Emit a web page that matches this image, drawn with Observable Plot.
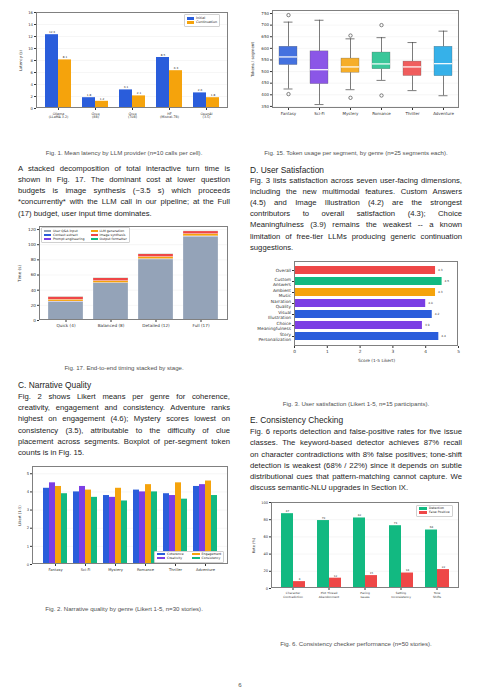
<!DOCTYPE html>
<html><head><meta charset="utf-8">
<script src="https://cdn.jsdelivr.net/npm/d3@7"></script>
<script src="https://cdn.jsdelivr.net/npm/@observablehq/plot@0.6"></script>
<style>
html,body{margin:0;padding:0;background:#fff;}
#page{position:relative;width:480px;height:694px;overflow:hidden;font-family:"Liberation Sans",Arial,sans-serif;color:#1d1d1d;}
.line{position:absolute;white-space:nowrap;font-size:7.7px;line-height:10px;}
.head{position:absolute;white-space:nowrap;font-size:8.4px;line-height:10px;}
.cap{position:absolute;white-space:nowrap;font-size:6.1px;line-height:8px;color:#505050;transform:translate(-50%,-50%);}
.frame{position:absolute;box-sizing:border-box;border:0.6px solid #808080;pointer-events:none;}
.legend{position:absolute;box-sizing:border-box;border:0.5px solid #d0d0d0;border-radius:1px;background:#fff;font-family:"DejaVu Sans",sans-serif;color:#222;display:grid;grid-auto-flow:column;align-items:center;}
.legend span.sw{display:inline-block;vertical-align:middle;margin-right:2px;}
</style></head>
<body><div id="page"></div>
<script>
// ---------------- DATA ----------------
// Fig. 1 – mean latency by provider
const providers = ["Ollama\n(LLaMA 3.2)", "Groq\n(8B)", "Groq\n(70B)", "HF\n(Mistral-7B)", "OpenAI\n(3.5)"];
const latencySeries = ["Initial", "Continuation"];
const latencyInitial = [12.3, 1.8, 3.1, 8.5, 2.6];
const latencyContinuation = [8.1, 1.2, 2.1, 6.3, 1.8];
const latencyTicks = [0, 2, 4, 6, 8, 10, 12, 14, 16];

// Fig. 15 – token usage boxplot summary
const genres = ["Fantasy", "Sci-Fi", "Mystery", "Romance", "Thriller", "Adventure"];
const tokLow = [425, 358, 422, 462, 418, 396];
const tokQ1 = [528, 446, 495, 510, 481, 480];
const tokMedian = [563, 508, 520, 533, 520, 534];
const tokQ3 = [607, 587, 556, 582, 543, 607];
const tokHigh = [713, 721, 641, 646, 625, 674];
const tokOutlierGenre = ["Fantasy", "Fantasy", "Mystery", "Mystery", "Romance", "Romance"];
const tokOutlierValue = [743, 403, 655, 387, 700, 397];
const tokTicks = [350, 400, 450, 500, 550, 600, 650, 700, 750];

// Fig. 17 – timing stacked by stage
const budgets = ["Quick (4)", "Balanced (8)", "Detailed (12)", "Full (17)"];
const stages = ["User Q&A input", "Context extract", "Prompt engineering", "LLM generation", "Image synthesis", "Output formatter"];
const tUser = [24.5, 49, 80.5, 110.5];
const tContext = [0.3, 0.3, 0.3, 0.3];
const tPrompt = [0.2, 0.2, 0.2, 0.2];
const tLLM = [2.4, 2.6, 2.8, 3.0];
const tImage = [3.5, 3.5, 3.5, 3.5];
const tOutput = [0.2, 0.2, 0.2, 0.2];
const timeTicks = [0, 20, 40, 60, 80, 100, 120];

// Fig. 3 – user satisfaction
const satDims = ["Overall", "Custom\nAnswers", "Ambient\nMusic", "Narration\nQuality", "Visual\nIllustration", "Choice\nMeaningfulness", "Story\nPersonalization"];
const satScores = [4.3, 4.5, 4.3, 4.0, 4.2, 3.9, 4.4];
const satTicks = [0, 1, 2, 3, 4, 5];

// Fig. 2 – narrative quality
const qualityMetrics = ["Coherence", "Creativity", "Engagement", "Consistency"];
const coherence = [4.2, 4.0, 3.8, 4.1, 3.9, 4.3];
const creativity = [4.5, 4.3, 3.7, 4.0, 3.8, 4.4];
const engagement = [4.3, 4.1, 4.2, 4.4, 4.5, 4.6];
const consistency = [3.9, 3.7, 3.5, 4.0, 3.6, 3.8];
const likertTicks = [0, 1, 2, 3, 4, 5];

// Fig. 6 – consistency checker
const issueClasses = ["Character\nContradiction", "Plot Thread\nAbandonment", "Pacing\nIssues", "Setting\nInconsistency", "Tone\nShifts"];
const checkSeries = ["Detection", "False Positive"];
const detectionRate = [87, 79, 82, 73, 68];
const falsePositiveRate = [8, 12, 15, 18, 22];
const rateTicks = [0, 20, 40, 60, 80, 100];

// Text
const para1 = ["A stacked decomposition of total interactive turn time is",
  "shown in Fig. 17. The dominant cost at lower question",
  "budgets is image synthesis (~3.5 s) which proceeds",
  "*concurrently* with the LLM call in our pipeline; at the Full",
  "(17) budget, user input time dominates."];
const paraD = ["Fig. 3 lists satisfaction across seven user-facing dimensions,",
  "including the new multimodal features. Custom Answers",
  "(4.5) and Image Illustration (4.2) are the strongest",
  "contributors to overall satisfaction (4.3); Choice",
  "Meaningfulness (3.9) remains the weakest -- a known",
  "limitation of free-tier LLMs producing generic continuation",
  "suggestions."];
const paraC = ["Fig. 2 shows Likert means per genre for coherence,",
  "creativity, engagement and consistency. Adventure ranks",
  "highest on engagement (4.6); Mystery scores lowest on",
  "consistency (3.5), attributable to the difficulty of clue",
  "placement across segments. Boxplot of per-segment token",
  "counts is in Fig. 15."];
const paraE = ["Fig. 6 reports detection and false-positive rates for five issue",
  "classes. The keyword-based detector achieves 87% recall",
  "on character contradictions with 8% false positives; tone-shift",
  "detection is weakest (68% / 22%) since it depends on subtle",
  "distributional cues that pattern-matching cannot capture. We",
  "discuss semantic-NLU upgrades in Section IX."];

// ---------------- COLOURS ----------------
const BLUE = "#2a5ddb", ORANGE = "#f5a30c", PURPLE = "#7b3fe4", GREEN = "#12b981", RED = "#ee4747", GRAY = "#94a3b8";

// ---------------- HELPERS ----------------
const page = document.getElementById("page");
function place(svg, left, top) {
  svg.style.position = "absolute"; svg.style.left = left + "px"; svg.style.top = top + "px";
  page.appendChild(svg);
}
function frame(left, top, m) {
  const f = document.createElement("div");
  f.className = "frame";
  Object.assign(f.style, {left: (left + m.left) + "px", top: (top + m.top) + "px",
    width: (m.width - m.left - m.right) + "px", height: (m.height - m.top - m.bottom) + "px"});
  page.appendChild(f);
}
function mount(svg, left, top, m) { place(svg, left, top); frame(left, top, m); }
const dims = (m) => ({width: m.width, height: m.height, marginTop: m.top, marginRight: m.right, marginBottom: m.bottom, marginLeft: m.left});
// y axis + grid drawn once across the whole frame (beneath faceted bars)
function yUnderlay(left, top, m, fs, yDomain, ticks, label, labelOffset) {
  const svg = Plot.plot({
    ...dims(m), style: baseStyle(fs),
    y: {domain: yDomain},
    marks: [
      Plot.ruleY(ticks.slice(1), {stroke: "#ececec", strokeWidth: 0.5}),
      Plot.axisY({ticks, tickFormat: fmtInt, tickSize: 2, tickPadding: 1.5, label, labelAnchor: "center", labelArrow: "none", labelOffset})
    ]
  });
  place(svg, left, top);
}
function lines(arr, x, width, y0, step, justifyLast = false) {
  arr.forEach((t, i) => {
    const d = document.createElement("div");
    d.className = "line"; d.textContent = t;
    d.style.left = x + "px"; d.style.top = (y0 + i * step - 5.5) + "px";
    page.appendChild(d);
    if (i < arr.length - 1 || justifyLast) {
      const w = d.getBoundingClientRect().width;
      const n = (t.match(/ /g) || []).length;
      if (n) d.style.wordSpacing = ((width - w) / n) + "px";
    }
  });
}
function head(t, x, y) {
  const d = document.createElement("div"); d.className = "head"; d.textContent = t;
  d.style.left = x + "px"; d.style.top = (y - 5.5) + "px"; page.appendChild(d);
}
function caption(t, cx, cy) {
  const d = document.createElement("div"); d.className = "cap"; d.textContent = t;
  d.style.left = cx + "px"; d.style.top = cy + "px"; page.appendChild(d);
}
function legend(items, colors, left, top, rows, fontSize, sw, colGap) {
  const d = document.createElement("div"); d.className = "legend";
  Object.assign(d.style, {left: left + "px", top: top + "px", fontSize: fontSize + "px",
    gridTemplateRows: `repeat(${rows}, auto)`, columnGap: colGap + "px", padding: "1.2px 2px", lineHeight: (fontSize * 1.25) + "px"});
  items.forEach((t, i) => {
    const it = document.createElement("div"); it.style.whiteSpace = "nowrap";
    const s = document.createElement("span"); s.className = "sw";
    Object.assign(s.style, {width: sw[0] + "px", height: sw[1] + "px", background: colors[i]});
    it.appendChild(s); it.appendChild(document.createTextNode(t)); d.appendChild(it);
  });
  page.appendChild(d);
}
const baseStyle = (fs) => ({fontFamily: "DejaVu Sans, sans-serif", fontSize: fs + "px", color: "#333", background: "none", overflow: "visible"});
const fmtInt = d3.format("d");

// ---------------- FIG 1 ----------------
{
  const m = {width: 240, height: 130, top: 12, right: 12, bottom: 22, left: 36};
  const rows = providers.flatMap((p, i) => [
    {provider: p, series: latencySeries[0], value: latencyInitial[i]},
    {provider: p, series: latencySeries[1], value: latencyContinuation[i]}]);
  yUnderlay(0, 0, m, 3.8, [0, 16], latencyTicks, "Latency (s)", 17);
  const svg = Plot.plot({
    ...dims(m), style: baseStyle(3.8),
    fx: {domain: providers, paddingInner: 0.3, paddingOuter: 0.24, label: null},
    x: {domain: latencySeries, padding: 0, axis: null},
    y: {domain: [0, 16], axis: null},
    color: {domain: latencySeries, range: [BLUE, ORANGE]},
    marks: [
      Plot.barY(rows, {fx: "provider", x: "series", y: "value", fill: "series"}),
      Plot.text(rows, {fx: "provider", x: "series", y: "value", text: d => d.value.toFixed(1), dy: -2.5, fontSize: 2.8, fill: "#333"}),
      Plot.axisFx({anchor: "bottom", tickSize: 2, tickPadding: 1.5, label: null, fontSize: 3.3, lineHeight: 1.15})
    ]
  });
  mount(svg, 0, 0, m);
  legend(latencySeries, [BLUE, ORANGE], 184, 14, 2, 3.3, [7, 2.6], 0);
}

// ---------------- FIG 15 ----------------
{
  const m = {width: 240, height: 130, top: 10, right: 21, bottom: 22, left: 32};
  const boxes = genres.map((g, i) => ({genre: g, lo: tokLow[i], q1: tokQ1[i], med: tokMedian[i], q3: tokQ3[i], hi: tokHigh[i]}));
  const outliers = tokOutlierGenre.map((g, i) => ({genre: g, value: tokOutlierValue[i]}));
  const pal = [BLUE, PURPLE, ORANGE, "#1fbf8c", RED, "#1aa6e6"];
  const svg = Plot.plot({
    ...dims(m), style: baseStyle(4),
    x: {domain: genres, paddingInner: 0.42, paddingOuter: 0.22},
    y: {domain: [341, 763]},
    color: {domain: genres, range: pal},
    marks: [
      Plot.ruleY(tokTicks, {stroke: "#ececec", strokeWidth: 0.5}),
      Plot.ruleX(boxes, {x: "genre", y1: "lo", y2: "q1", stroke: "#444", strokeWidth: 0.7}),
      Plot.ruleX(boxes, {x: "genre", y1: "q3", y2: "hi", stroke: "#444", strokeWidth: 0.7}),
      Plot.tickY(boxes, {x: "genre", y: "lo", stroke: "#444", strokeWidth: 0.7, inset: 4.5}),
      Plot.tickY(boxes, {x: "genre", y: "hi", stroke: "#444", strokeWidth: 0.7, inset: 4.5}),
      Plot.barY(boxes, {x: "genre", y1: "q1", y2: "q3", fill: "genre", fillOpacity: 0.88, stroke: "#555", strokeWidth: 0.4, strokeOpacity: 0.7}),
      Plot.tickY(boxes, {x: "genre", y: "med", stroke: "#fff", strokeWidth: 1.2}),
      Plot.dot(outliers, {x: "genre", y: "value", r: 1.7, stroke: "#333", strokeWidth: 0.6, fill: "none"}),
      Plot.axisY({ticks: tokTicks, tickFormat: fmtInt, tickSize: 2, tickPadding: 1.5, label: "Tokens / segment", labelAnchor: "center", labelArrow: "none", labelOffset: 21}),
      Plot.axisX({tickSize: 2, tickPadding: 1.5, label: null})
    ]
  });
  mount(svg, 240, 0, m);
}

// ---------------- FIG 17 ----------------
{
  const m = {width: 240, height: 112, top: 4, right: 12, bottom: 14, left: 39};
  const series = [tUser, tContext, tPrompt, tLLM, tImage, tOutput];
  const rows = budgets.flatMap((b, i) => stages.map((s, j) => ({budget: b, stage: s, value: series[j][i]})));
  const pal = [GRAY, BLUE, PURPLE, ORANGE, RED, GREEN];
  const svg = Plot.plot({
    ...dims(m), style: baseStyle(4.2),
    x: {domain: budgets, paddingInner: 0.22, paddingOuter: 0.2},
    y: {domain: [0, 124]},
    color: {domain: stages, range: pal},
    marks: [
      Plot.ruleY(timeTicks.slice(1), {stroke: "#ececec", strokeWidth: 0.5}),
      Plot.barY(rows, {x: "budget", y: "value", fill: "stage", stroke: "#fff", strokeWidth: 0.25}),
      Plot.axisY({ticks: timeTicks, tickFormat: fmtInt, tickSize: 2, tickPadding: 1.5, label: "Time (s)", labelAnchor: "center", labelArrow: "none", labelOffset: 21}),
      Plot.axisX({tickSize: 2, tickPadding: 1.5, label: null})
    ]
  });
  mount(svg, 0, 222, m);
  legend(stages, pal, 41, 227, 3, 3.2, [7, 2.2], 6);
}

// ---------------- FIG 3 ----------------
{
  const m = {width: 240, height: 112, top: 6, right: 22, bottom: 21, left: 54};
  const rows = satDims.map((d, i) => ({dim: d, score: satScores[i]}));
  const pal = [RED, GREEN, ORANGE, PURPLE, BLUE, PURPLE, BLUE];
  const svg = Plot.plot({
    ...dims(m), style: baseStyle(4.3),
    x: {domain: [0, 5]},
    y: {domain: satDims, paddingInner: 0.26, paddingOuter: 0.345},
    color: {domain: satDims, range: pal},
    marks: [
      Plot.barX(rows, {y: "dim", x: "score", fill: "dim"}),
      Plot.text(rows, {y: "dim", x: "score", text: d => d.score.toFixed(1), textAnchor: "start", dx: 2.5, fontSize: 2.9, fill: "#333"}),
      Plot.axisX({ticks: satTicks, tickFormat: fmtInt, tickSize: 2, tickPadding: 1.5, label: "Score (1-5 Likert)", labelAnchor: "center", labelArrow: "none", labelOffset: 15}),
      Plot.axisY({tickSize: 2, tickPadding: 1.5, label: null, lineHeight: 1.2})
    ]
  });
  mount(svg, 240, 255, m);
}

// ---------------- FIG 2 ----------------
{
  const m = {width: 240, height: 120, top: 6, right: 12, bottom: 16, left: 32};
  const vals = [coherence, creativity, engagement, consistency];
  const rows = genres.flatMap((g, i) => qualityMetrics.map((q, j) => ({genre: g, metric: q, value: vals[j][i]})));
  const pal = [BLUE, PURPLE, ORANGE, GREEN];
  yUnderlay(0, 460, m, 3.7, [0, 5.4], likertTicks, "Likert (1-5)", 14);
  const svg = Plot.plot({
    ...dims(m), style: baseStyle(3.7),
    fx: {domain: genres, paddingInner: 0.2, paddingOuter: 0.33, label: null},
    x: {domain: qualityMetrics, padding: 0, axis: null},
    y: {domain: [0, 5.4], axis: null},
    color: {domain: qualityMetrics, range: pal},
    marks: [
      Plot.barY(rows, {fx: "genre", x: "metric", y: "value", fill: "metric"}),
      Plot.axisFx({anchor: "bottom", tickSize: 2, tickPadding: 1.5, label: null})
    ]
  });
  mount(svg, 0, 460, m);
  legend(qualityMetrics, pal, 154, 551, 2, 3.1, [8, 2.2], 8);
}

// ---------------- FIG 6 ----------------
{
  const m = {width: 240, height: 110, top: 7, right: 21, bottom: 17, left: 31};
  const rows = issueClasses.flatMap((c, i) => [
    {issue: c, series: checkSeries[0], value: detectionRate[i]},
    {issue: c, series: checkSeries[1], value: falsePositiveRate[i]}]);
  const pal = [GREEN, RED];
  yUnderlay(240, 495, m, 3.6, [0, 100], rateTicks, "Rate (%)", 19);
  const svg = Plot.plot({
    ...dims(m), style: baseStyle(3.6),
    fx: {domain: issueClasses, paddingInner: 0.3, paddingOuter: 0.22, label: null},
    x: {domain: checkSeries, padding: 0, axis: null},
    y: {domain: [0, 100], axis: null},
    color: {domain: checkSeries, range: pal},
    marks: [
      Plot.barY(rows, {fx: "issue", x: "series", y: "value", fill: "series"}),
      Plot.text(rows, {fx: "issue", x: "series", y: "value", text: d => String(d.value), dy: -2.5, fontSize: 2.7, fill: "#333"}),
      Plot.axisFx({anchor: "bottom", tickSize: 2, tickPadding: 1.5, label: null, fontSize: 2.9, lineHeight: 1.15})
    ]
  });
  mount(svg, 240, 495, m);
  legend(checkSeries, pal, 416, 505, 2, 3.1, [8, 2.4], 0);
}

// ---------------- TEXT ----------------
caption("Fig. 1. Mean latency by LLM provider (n=10 calls per cell).", 124, 153);
caption("Fig. 15. Token usage per segment, by genre (n=25 segments each).", 356, 153);
lines(para1, 18, 212, 169, 11.3);
head("D. User Satisfaction", 250, 170);
lines(paraD, 250, 212, 181, 11.2);
caption("Fig. 17. End-to-end timing stacked by stage.", 124, 368);
caption("Fig. 3. User satisfaction (Likert 1-5, n=15 participants).", 356, 404);
head("C. Narrative Quality", 18, 385);
lines(paraC, 18, 212, 397.7, 11.1);
head("E. Consistency Checking", 250, 420.7);
lines(paraE, 250, 212, 432.7, 11.2);
caption("Fig. 2. Narrative quality by genre (Likert 1-5, n=30 stories).", 124, 609);
caption("Fig. 6. Consistency checker performance (n=50 stories).", 356, 644);
caption("6", 240, 685);
</script>
</body></html>
